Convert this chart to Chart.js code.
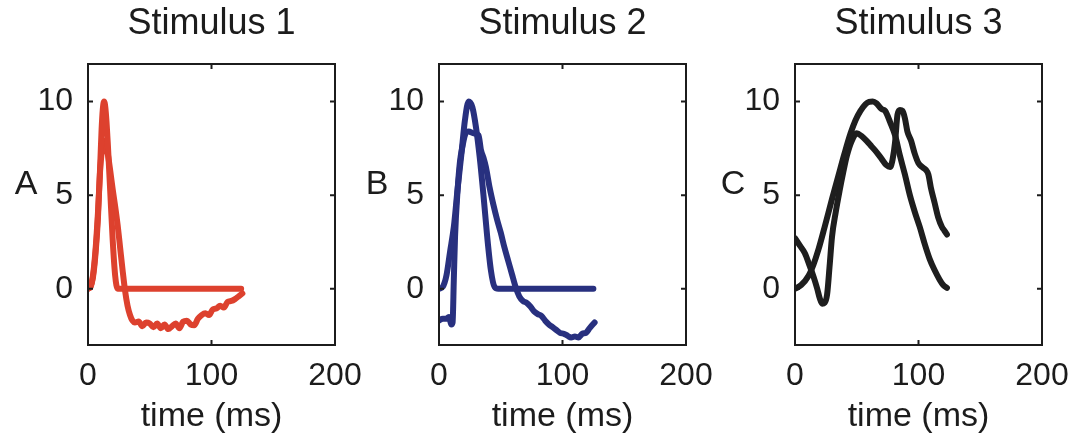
<!DOCTYPE html>
<html>
<head>
<meta charset="utf-8">
<script src="https://cdn.jsdelivr.net/npm/chart.js@4.4.1/dist/chart.umd.min.js"></script>
<style>
  body { margin: 0; width: 1078px; height: 438px; overflow: hidden; background: #fff; position: relative; }
  canvas { position: absolute; top: 0; }
</style>
</head>
<body>
<canvas id="c1" width="423" height="438" style="left:0px"></canvas>
<canvas id="c2" width="423" height="438" style="left:351px"></canvas>
<canvas id="c3" width="423" height="438" style="left:707px"></canvas>
<script>
// tick labels (shared by all three panels)
const xTicks = [0, 100, 200];
const yTicks = [0, 5, 10];

const panelTitles = ['Stimulus 1', 'Stimulus 2', 'Stimulus 3'];
const panelLetters = ['A', 'B', 'C'];
const panelColors = ['#dd412e', '#28307f', '#1e1e1e'];

// Stimulus 1 - model response (returns to 0)
const stim1ModelT = [0, 2, 4, 6, 8, 10, 11, 12, 13, 14, 15, 16, 18, 20, 22, 24, 124];
const stim1ModelV = [0, 0.1, 0.6, 1.8, 3.7, 6.8, 8.5, 9.6, 10, 9.7, 8.9, 7.8, 5.2, 2.6, 0.7, 0, 0];
// Stimulus 1 - measured response
const stim1DataT = [0, 2, 4, 6, 8, 10, 12, 13, 14, 16, 18, 20, 22, 24, 26, 28, 30, 32, 34, 36, 38, 41, 44, 47, 50, 53, 56, 59, 62, 65, 68, 71, 74, 77, 80, 83, 86, 89, 92, 95, 98, 101, 104, 107, 110, 113, 116, 119, 122, 125];
const stim1DataV = [0, 0.1, 0.7, 2, 4, 6.5, 7.7, 7.9, 7.7, 7.2, 6.3, 5.3, 4.4, 3.4, 2.2, 1.0, -0.1, -0.9, -1.4, -1.7, -1.8, -1.75, -2.0, -1.8, -1.85, -2.05, -1.85, -2.1, -1.9, -2.15, -2.0, -1.85, -2.1, -1.75, -1.7, -1.9, -1.95, -1.6, -1.4, -1.3, -1.4, -1.1, -1.05, -0.9, -1.0, -0.7, -0.65, -0.55, -0.4, -0.25];

// Stimulus 2
const stim2ModelT = [0, 3, 6, 9, 12, 15, 18, 21, 24, 27, 30, 33, 36, 39, 42, 45, 48, 125];
const stim2ModelV = [0, 0.1, 0.7, 2.0, 3.3, 5.3, 7.1, 9.0, 10, 9.7, 8.6, 7.0, 5.0, 2.8, 1.0, 0.1, 0, 0];
const stim2DataT = [0, 3, 6, 8, 9, 10, 11, 12, 13, 15, 17, 19, 21, 24, 28, 32, 34, 36, 38, 41, 44, 47, 50, 53, 56, 59, 62, 65, 68, 71, 74, 77, 80, 83, 86, 89, 92, 95, 98, 101, 104, 107, 110, 113, 116, 119, 122, 126];
const stim2DataV = [-1.7, -1.6, -1.6, -1.5, -1.7, -1.9, -1.8, 0.5, 2.8, 5.2, 6.8, 7.6, 8.2, 8.4, 8.3, 8.2, 7.4, 7.0, 6.5, 5.4, 4.5, 3.7, 3.0, 2.2, 1.5, 0.8, 0.1, -0.4, -0.65, -0.75, -0.95, -1.2, -1.35, -1.45, -1.7, -1.9, -2.05, -2.2, -2.35, -2.4, -2.5, -2.6, -2.55, -2.6, -2.4, -2.35, -2.1, -1.8];

// Stimulus 3
const stim3ModelT = [0, 5, 11, 15, 19, 24, 30, 35, 40, 45, 49, 53, 57, 60, 63, 66, 70, 73, 77, 81, 85, 89, 93, 97, 101, 105, 109, 113, 117, 120, 123];
const stim3ModelV = [0, 0.2, 0.7, 1.3, 2.1, 3.3, 4.8, 6.0, 7.2, 8.3, 9.0, 9.5, 9.85, 9.98, 10, 9.9, 9.6, 9.5, 8.9, 8.2, 7.1, 6.1, 5.0, 4.1, 3.3, 2.4, 1.6, 1.0, 0.5, 0.2, 0.05];
const stim3DataT = [0, 4, 8, 12, 15, 18, 20, 22, 24, 26, 28, 30, 33, 36, 39, 42, 46, 50, 54, 58, 62, 66, 70, 74, 77, 79, 81, 83, 85, 87, 89, 91, 94, 97, 100, 103, 106, 108, 110, 113, 116, 119, 121, 123];
const stim3DataV = [2.7, 2.3, 1.9, 1.2, 0.65, 0.0, -0.5, -0.8, -0.75, -0.3, 1.2, 2.8, 4.1, 5.2, 6.2, 7.1, 7.9, 8.3, 8.15, 7.9, 7.6, 7.3, 6.95, 6.6, 6.5, 6.9, 7.8, 9.3, 9.55, 9.5, 9.1, 8.4, 7.9, 7.2, 6.7, 6.5, 6.35, 6.1, 5.4, 4.6, 3.8, 3.3, 3.1, 2.9];

const FONT = '"Liberation Sans", Arial, Helvetica, sans-serif';
const INK = '#1c1c1c';

function pts(t, v) {
  return t.map((tt, i) => ({ x: tt, y: v[i] }));
}

// box around the plot, inward tick marks, panel title and letter
const framePlugin = {
  id: 'frame',
  afterDatasetsDraw(chart, args, opts) {
    const { ctx, chartArea: a, scales: { x, y } } = chart;
    ctx.save();
    ctx.strokeStyle = INK;
    ctx.lineWidth = 2;
    ctx.strokeRect(a.left, a.top, a.right - a.left, a.bottom - a.top);
    ctx.beginPath();
    xTicks.forEach(v => {
      const px = x.getPixelForValue(v);
      ctx.moveTo(px, a.bottom); ctx.lineTo(px, a.bottom - 5);
      ctx.moveTo(px, a.top); ctx.lineTo(px, a.top + 5);
    });
    yTicks.forEach(v => {
      const py = y.getPixelForValue(v);
      ctx.moveTo(a.left, py); ctx.lineTo(a.left + 5, py);
      ctx.moveTo(a.right, py); ctx.lineTo(a.right - 5, py);
    });
    ctx.stroke();
    ctx.fillStyle = INK;
    ctx.textAlign = 'center';
    ctx.textBaseline = 'middle';
    ctx.font = '36px ' + FONT;
    ctx.fillText(opts.title, (a.left + a.right) / 2, 24);
    ctx.font = '34px ' + FONT;
    ctx.fillText(opts.letter, a.left - 62, 185);
    ctx.restore();
  }
};

const series = [
  [stim1ModelT, stim1ModelV, stim1DataT, stim1DataV],
  [stim2ModelT, stim2ModelV, stim2DataT, stim2DataV],
  [stim3ModelT, stim3ModelV, stim3DataT, stim3DataV]
];

series.forEach((s, i) => {
  const line = {
    borderColor: panelColors[i],
    borderWidth: 6,
    pointRadius: 0,
    cubicInterpolationMode: 'monotone',
    borderJoinStyle: 'round',
    borderCapStyle: 'round',
    fill: false
  };
  new Chart(document.getElementById('c' + (i + 1)), {
    type: 'line',
    data: {
      datasets: [
        Object.assign({ data: pts(s[0], s[1]) }, line),
        Object.assign({ data: pts(s[2], s[3]) }, line)
      ]
    },
    options: {
      responsive: false,
      animation: false,
      layout: { padding: { left: 0, right: 88, top: 64, bottom: 0 } },
      plugins: {
        legend: { display: false },
        tooltip: { enabled: false },
        title: { display: false },
        frame: { title: panelTitles[i], letter: panelLetters[i] }
      },
      scales: {
        x: {
          type: 'linear',
          min: 0,
          max: 200,
          afterBuildTicks: sc => { sc.ticks = xTicks.map(v => ({ value: v })); },
          afterFit: sc => { sc.height = 93; },
          grid: { display: false, drawTicks: false },
          border: { display: false },
          ticks: { color: INK, padding: 12, maxRotation: 0, font: { family: FONT, size: 32 } },
          title: {
            display: true,
            text: 'time (ms)',
            color: INK,
            font: { family: FONT, size: 34 },
            padding: { top: 0, bottom: 1 }
          }
        },
        y: {
          min: -3,
          max: 12,
          afterBuildTicks: sc => { sc.ticks = yTicks.map(v => ({ value: v })); },
          afterFit: sc => { sc.width = 88; },
          grid: { display: false, drawTicks: false },
          border: { display: false },
          ticks: { color: INK, padding: 15, font: { family: FONT, size: 32 } }
        }
      }
    },
    plugins: [framePlugin]
  });
});
</script>
</body>
</html>
